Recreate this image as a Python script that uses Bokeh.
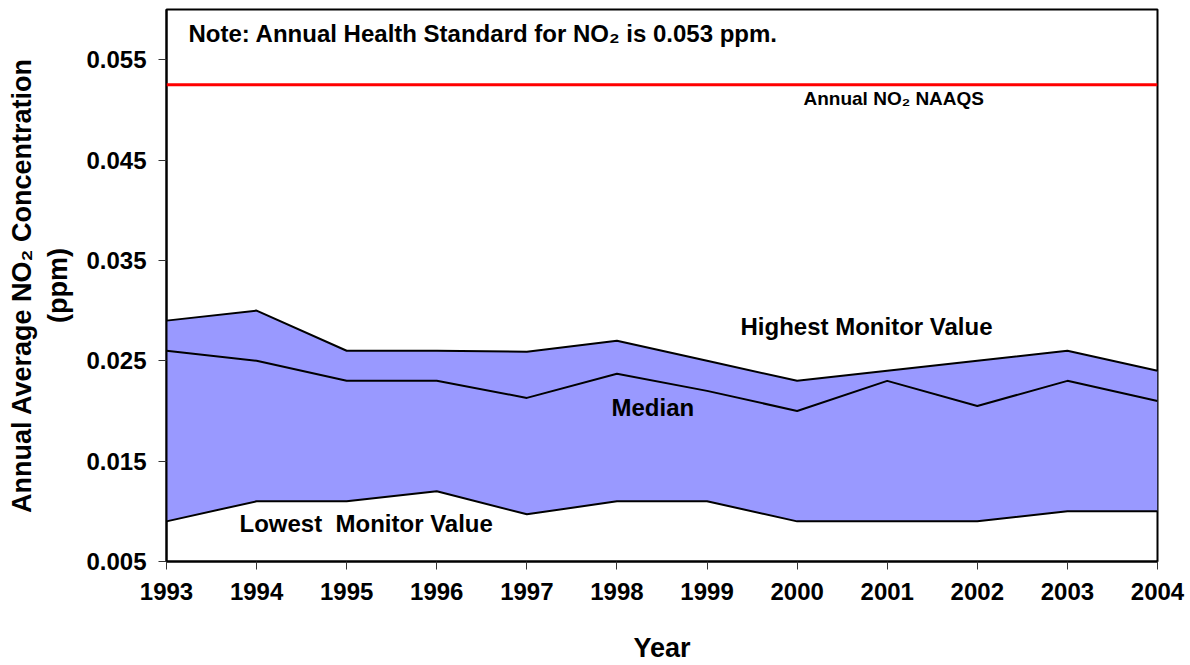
from bokeh.plotting import figure
from bokeh.models import Label, Span, Range1d
from bokeh.embed import file_html
from bokeh.resources import INLINE

# ---- data ----
years = [1993, 1994, 1995, 1996, 1997, 1998, 1999, 2000, 2001, 2002, 2003, 2004]
highest = [0.029, 0.030, 0.026, 0.026, 0.0259, 0.027, 0.025, 0.023, 0.024, 0.025, 0.026, 0.024]
median = [0.026, 0.025, 0.023, 0.023, 0.0213, 0.0237, 0.022, 0.020, 0.023, 0.0205, 0.023, 0.021]
lowest = [0.009, 0.011, 0.011, 0.012, 0.0097, 0.011, 0.011, 0.009, 0.009, 0.009, 0.010, 0.010]
naaqs = 0.0525
y_ticks = [0.005, 0.015, 0.025, 0.035, 0.045, 0.055]
y_tick_labels = ["0.005", "0.015", "0.025", "0.035", "0.045", "0.055"]
x_tick_labels = [str(y) for y in years]

FONT = "Liberation Sans"

W, H = 1190, 665
FL, FR, FT, FB = 166, 33, 9, 104  # frame borders in figure px
X0, X1 = 1993, 2004
Y0, Y1 = 0.005, 0.060

p = figure(width=W, height=H, x_range=Range1d(X0, X1), y_range=Range1d(Y0, Y1),
           output_backend="svg", toolbar_location=None,
           min_border_left=FL, min_border_right=FR, min_border_top=FT, min_border_bottom=FB)
p.background_fill_color = "white"
p.border_fill_color = "white"
p.outline_line_color = "black"
p.outline_line_width = 2
p.xgrid.visible = False
p.ygrid.visible = False

for ax in (p.xaxis[0], p.yaxis[0]):
    ax.axis_line_color = "black"
    ax.axis_line_width = 2
    ax.major_tick_in = 0
    ax.major_tick_out = 8
    ax.major_tick_line_color = "#333333"
    ax.major_tick_line_width = 1
    ax.minor_tick_line_color = None
    ax.major_label_text_font = FONT
    ax.major_label_text_font_style = "bold"
    ax.major_label_text_font_size = "24px"
    ax.major_label_text_color = "black"
    ax.axis_label_text_font = FONT
    ax.axis_label_text_font_style = "bold"
    ax.axis_label_text_font_size = "27px"
    ax.axis_label_text_color = "black"

p.xaxis.ticker = years
p.xaxis.major_label_overrides = {y: s for y, s in zip(years, x_tick_labels)}
p.xaxis.major_label_standoff = 13
p.xaxis.axis_label = "Year"
p.xaxis.axis_label_standoff = 30
p.yaxis.ticker = y_ticks
p.yaxis.major_label_overrides = {t: s for t, s in zip(y_ticks, y_tick_labels)}
p.yaxis.major_label_standoff = 12
p.yaxis.axis_label = "Annual Average NO\u2082 Concentration\n(ppm)"
p.yaxis.axis_label_standoff = 10

# band
p.varea(x=years, y1=lowest, y2=highest, fill_color="#9999FF")
for series in (highest, median, lowest):
    p.line(years, series, line_color="black", line_width=2)

p.add_layout(Span(location=naaqs, dimension="width", line_color="#FF0000", line_width=3))

# pixel helpers (screenshot px -> data) for annotation placement
fw = W - FL - FR
fh = H - FT - FB
def dx(px):
    return X0 + (px - FL) / fw * (X1 - X0)
def dy(py):
    return Y0 + ((H - FB) - py) / fh * (Y1 - Y0)

def lab(text, px, py, size, align="left"):
    py = py - 0.35 * size
    p.add_layout(Label(x=dx(px), y=dy(py), text=text, text_font=FONT,
                       text_font_style="bold", text_font_size=f"{size}px", text_color="black",
                       text_align=align, text_baseline="alphabetic"))

lab("Note: Annual Health Standard for NO\u2082 is 0.053 ppm.", 188, 41, 24)
lab("Annual NO\u2082 NAAQS", 803, 105, 19)
lab("Highest Monitor Value", 740, 334, 24)
lab("Median", 611, 415, 24)
lab("Lowest\u00a0 Monitor Value", 239, 531, 24)

open("out.html", "w").write(file_html(p, INLINE))
